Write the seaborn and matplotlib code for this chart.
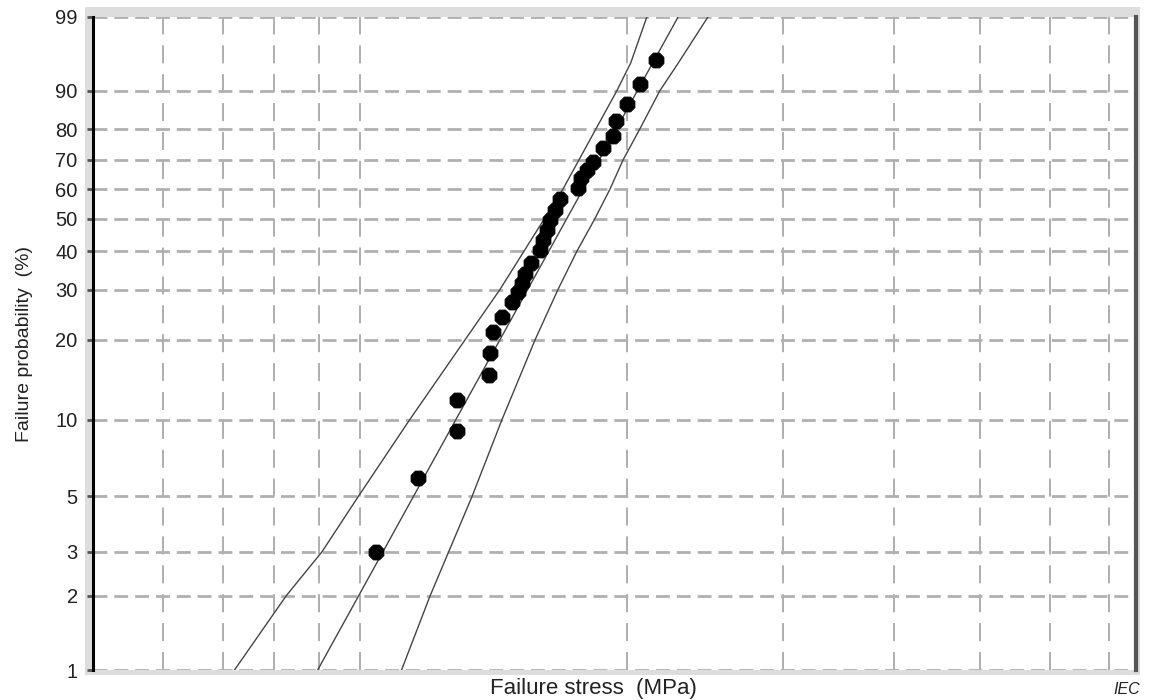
import numpy as np
import pandas as pd
import matplotlib
matplotlib.use("Agg")
import matplotlib.pyplot as plt
from matplotlib.patches import Rectangle
from matplotlib.ticker import NullLocator, FixedLocator, NullFormatter
import seaborn as sns

# ---- data ----
stress = [52.1, 58.1, 64.3, 64.3, 69.9, 70.1, 70.6, 72.3, 74.2, 75.4, 76.1, 76.7,
          78.0, 79.8, 80.4, 81.3, 81.9, 82.9, 84.0, 88.0, 88.7, 90.1, 91.6, 94.0,
          96.4, 97.2, 100.0, 103.4, 107.8]
prob = [3.0, 5.9, 9.0, 11.9, 14.8, 17.9, 21.3, 24.1, 27.2, 29.5, 31.6, 33.8,
        36.7, 40.4, 43.4, 46.4, 49.6, 52.9, 56.6, 60.4, 63.8, 66.6, 69.3, 74.0,
        77.9, 82.4, 86.9, 91.4, 95.4]

fit_prob = [1, 99]
fit_stress = [44.8, 114.2]

lo_prob = [1, 2, 3, 5, 10, 30, 60, 90, 95, 99]
lo_stress = [36.1, 41.3, 45.3, 49.8, 56.9, 71.9, 84.7, 97.4, 101.0, 105.3]

hi_prob = [1, 2, 5, 10, 20, 30, 40, 50, 60, 70, 80, 90, 95, 99]
hi_stress = [55.7, 60.0, 66.9, 72.3, 78.8, 83.6, 87.8, 92.0, 95.7, 99.0, 103.4,
             108.9, 114.3, 123.4]

y_ticks = [1, 2, 3, 5, 10, 20, 30, 40, 50, 60, 70, 80, 90, 99]
x_grid = [30, 35, 40, 45, 50, 100, 150, 200, 250, 300, 350]
x_limits = [25, 375]

# ---- styling ----
sns.set_theme(style="white")
plt.rcParams["font.family"] = ["Liberation Sans", "DejaVu Sans"]

W, H = 1149, 700
fig = plt.figure(figsize=(W / 100, H / 100), dpi=100)

# light grey frame behind the plotting area
fig.patches.append(Rectangle((85 / W, 1 - 675 / H), (1140 - 85) / W, (675 - 7) / H,
                             transform=fig.transFigure, facecolor="#dddddd",
                             edgecolor="none", zorder=0))

ax = fig.add_axes([93 / W, 1 - 670 / H, (1136 - 93) / W, (670 - 17) / H])
ax.set_facecolor("white")
ax.set_zorder(1)


def fwd(p):
    p = np.clip(np.asarray(p, dtype=float), 1e-6, 100 - 1e-6)
    return np.log(-np.log(1 - p / 100.0))


def inv(y):
    y = np.asarray(y, dtype=float)
    return 100.0 * (1 - np.exp(-np.exp(y)))


ax.set_xscale("log")
ax.set_yscale("function", functions=(fwd, inv))

pts = pd.DataFrame({"stress": stress, "prob": prob})
fit = pd.DataFrame({"stress": fit_stress, "prob": fit_prob})
lo = pd.DataFrame({"stress": lo_stress, "prob": lo_prob})
hi = pd.DataFrame({"stress": hi_stress, "prob": hi_prob})

line_kw = dict(color="#454545", linewidth=1.0, sort=False, estimator=None, zorder=3)
sns.lineplot(data=fit, x="stress", y="prob", ax=ax, **line_kw)
sns.lineplot(data=lo, x="stress", y="prob", ax=ax, **line_kw)
sns.lineplot(data=hi, x="stress", y="prob", ax=ax, **line_kw)
sns.scatterplot(data=pts, x="stress", y="prob", ax=ax, marker="8", s=135,
                color="black", edgecolor="black", linewidth=0.6, zorder=4)

ax.set_xlim(*x_limits)
ax.set_ylim(1, 99)

ax.xaxis.set_major_locator(FixedLocator(x_grid))
ax.xaxis.set_minor_locator(NullLocator())
ax.xaxis.set_major_formatter(NullFormatter())
ax.xaxis.set_minor_formatter(NullFormatter())
ax.yaxis.set_major_locator(FixedLocator(y_ticks))
ax.yaxis.set_minor_locator(NullLocator())
ax.set_yticklabels([str(t) for t in y_ticks])

ax.tick_params(axis="x", length=0)
ax.tick_params(axis="y", length=4, width=2, color="#555555", pad=7,
               labelsize=14.5, labelcolor="#222222", left=True)

ax.grid(True, which="major", axis="x", color="#a8a8a8", linewidth=1.3,
        linestyle=(0, (10, 6)))
ax.grid(True, which="major", axis="y", color="#b0b0b0", linewidth=2.0,
        linestyle=(0, (5, 2.5)))
ax.set_axisbelow(True)

for s in ["top", "bottom"]:
    ax.spines[s].set_visible(False)
ax.spines["left"].set_color("black")
ax.spines["left"].set_linewidth(2.2)
ax.spines["right"].set_color("#555555")
ax.spines["right"].set_linewidth(3)

ax.set_xlabel("Failure stress  (MPa)", fontsize=16, color="#222222")
ax.xaxis.set_label_coords((593 - 93) / (1136 - 93), -(678 - 670) / (670 - 17))
ax.xaxis.label.set_va("top")
ax.set_ylabel("Failure probability  (%)", fontsize=14, color="#222222")
ax.yaxis.set_label_coords(-(93 - 33) / (1136 - 93), 0.5)

fig.text(1127 / W, 1 - 690 / H, "IEC", fontsize=11.5, style="italic",
         ha="center", va="center", color="#222222")

fig.savefig("out.png", dpi=100)
